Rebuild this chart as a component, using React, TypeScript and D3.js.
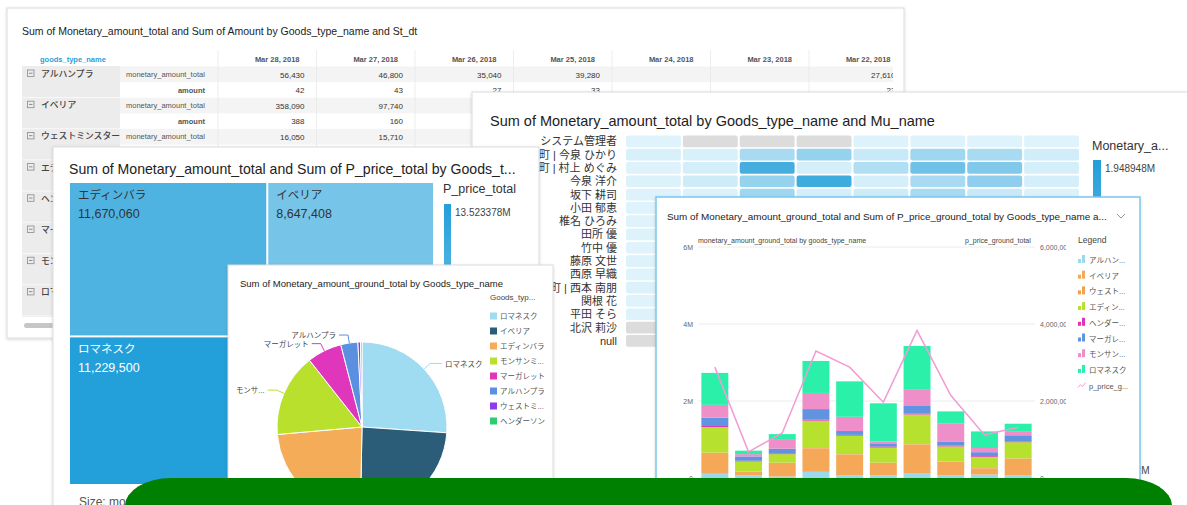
import * as d3 from "d3";
import { useEffect, useRef } from "react";

const W = 1187;
const H = 505;
const FONT = '"Liberation Sans", "Noto Sans CJK JP", sans-serif';

// ---- pivot table card
const tableTitle = "Sum of Monetary_amount_total and Sum of Amount by Goods_type_name and St_dt";
const tableDates = ["Mar 28, 2018", "Mar 27, 2018", "Mar 26, 2018", "Mar 25, 2018", "Mar 24, 2018", "Mar 23, 2018", "Mar 22, 2018"];
const tableGroups = ["アルハンプラ", "イベリア", "ウェストミンスター", "エディンバラ", "ヘンダーソン", "マーガレット", "モンサンミッシェル", "ロマネスク"];
const tableMeasures = ["monetary_amount_total", "amount"];
const tableMonetary = [
  [56430, 46800, 35040, 39280, null, null, 27610],
  [358090, 97740, null, null, null, null, null],
  [16050, 15710, null, null, null, null, null],
];
const tableAmount = [
  [42, 43, 27, 33, null, null, 23],
  [388, 160, null, null, null, null, null],
];

// ---- heatmap card
const heatTitle = "Sum of Monetary_amount_total by Goods_type_name and Mu_name";
const heatGoods = ["アルハンプラ", "イベリア", "ウェストミンスター", "エディンバラ", "ヘンダーソン", "マーガレット", "モンサンミッシェル", "ロマネスク"];
const heatNames = ["システム管理者", "本町 | 今泉 ひかり", "本町 | 村上 めぐみ", "今泉 洋介", "坂下 耕司", "小田 郁恵", "椎名 ひろみ", "田所 優", "竹中 優", "藤原 文世", "西原 早織", "本町 | 西本 南朋", "関根 花", "平田 そら", "北沢 莉沙", "null"];
// millions, null = no data (grey)
const heatValues = [
  [0.03, null, null, null, 0.04, 0.04, 0.03, 0.03],
  [0.09, 0.09, 0.58, 0.78, 0.26, 0.67, 0.58, 0.17],
  [0.04, 0.12, 1.6, 0.12, 0.5, 1.17, 0.99, 0.12],
  [0.05, 0.2, 0.78, 1.66, 0.12, 0.58, 0.84, 0.12],
  [0.04, 0.05, 0.67, 0.12, 0.2, 0.58, 0.25, 0.05],
  [0.03, 0.12, 0.35, 0.2, 0.1, 0.3, 0.25, 0.08],
  [0.03, 0.08, 0.4, 0.5, 0.15, 0.45, 0.3, 0.1],
  [0.04, 0.1, 0.3, 0.2, 0.12, 0.35, 0.4, 0.06],
  [0.03, 0.06, 0.25, 0.3, 0.1, 0.2, 0.22, 0.05],
  [0.04, 0.1, 0.45, 0.35, 0.2, 0.5, 0.42, 0.12],
  [0.03, 0.07, 0.3, 0.28, 0.1, 0.33, 0.3, 0.07],
  [0.05, 0.12, 0.55, 0.6, 0.2, 0.62, 0.5, 0.15],
  [0.03, 0.05, 0.2, 0.18, 0.08, 0.25, 0.2, 0.05],
  [0.04, 0.06, 0.22, 0.2, 0.09, 0.27, 0.24, 0.06],
  [null, 0.04, 0.12, 0.1, null, 0.15, 0.1, null],
  [null, null, 0.05, 0.04, null, 0.06, 0.05, null],
];
const heatMax = 1.948948;

// ---- treemap card
const treeTitle = "Sum of Monetary_amount_total and Sum of P_price_total by Goods_t...";
const treeNames = ["エディンバラ", "ロマネスク", "イベリア", "モンサンミッシェル", "マーガレット", "アルハンプラ", "ウェストミンスター", "ヘンダーソン"];
const treeAmount = [11670060, 11229500, 8647408, 5480000, 3020000, 1610000, 310000, 190000];
const treePrice = [10400000, 13523378, 7600000, 6200000, 3400000, 1900000, 400000, 250000];
const treePriceMax = 13523378;

// ---- pie card
const pieTitle = "Sum of Monetary_amount_ground_total by Goods_type_name";
const pieNames = ["ロマネスク", "イベリア", "エディンバラ", "モンサンミッシェル", "マーガレット", "アルハンプラ", "ウェストミンスター", "ヘンダーソン"];
const pieValues = [5420000, 5030000, 4840000, 3280000, 1370000, 675000, 100000, 60000];
const pieColors = ["#a0dcf1", "#2b5d79", "#f5ac58", "#b9e02d", "#e036bb", "#5b90e0", "#8b3cf2", "#2ecc71"];

// ---- combo card (values in millions)
const comboTitle = "Sum of Monetary_amount_ground_total and Sum of P_price_ground_total by Goods_type_name a...";
const comboDates = ["Mar 13", "Mar 14", "Mar 15", "Mar 16", "Mar 17", "Mar 18", "Mar 19", "Mar 20", "Mar 21", "Mar 22"];
const comboKeys = ["アルハンプラ", "イベリア", "ウェストミンスター", "エディンバラ", "ヘンダーソン", "マーガレット", "モンサンミッシェル", "ロマネスク"];
const comboColors = ["#9bd9ef", "#f5a857", "#f39f4f", "#b6e12f", "#e233b5", "#6093e0", "#ee8fca", "#2af0a9"];
const alhambra = [0.11, 0.07, 0.04, 0.16, 0.07, 0.07, 0.13, 0.07, 0.09, 0.07];
const iberia = [0.54, 0.09, 0.35, 0.61, 0.54, 0.32, 0.74, 0.35, 0.16, 0.43];
const westminster = [0.01, 0.01, 0.01, 0.01, 0.01, 0.01, 0.01, 0.01, 0.01, 0.01];
const edinburgh = [0.66, 0.26, 0.22, 0.71, 0.48, 0.39, 0.77, 0.39, 0.29, 0.42];
const henderson = [0.03, 0.02, 0.02, 0.03, 0.02, 0.03, 0.02, 0.02, 0.02, 0.02];
const margaret = [0.22, 0.11, 0.12, 0.27, 0.1, 0.08, 0.2, 0.11, 0.1, 0.16];
const montsaint = [0.33, 0.06, 0.23, 0.42, 0.37, 0.05, 0.42, 0.46, 0.11, 0.09];
const romanesque = [0.83, 0.09, 0.15, 0.83, 0.92, 0.99, 1.14, 0.32, 0.43, 0.21];
const pPrice = [2.88, 0.68, 1.17, 3.3, 2.88, 1.97, 3.83, 2.15, 1.12, 1.32];
const comboTicks = [0, 2, 4, 6];

function card(g: any, x: number, y: number, w: number, h: number, stroke = "#dcdcdc", sw = 1) {
  g.append("rect")
    .attr("x", x).attr("y", y).attr("width", w).attr("height", h)
    .attr("fill", "#fff").attr("stroke", stroke).attr("stroke-width", sw)
    .attr("filter", "url(#shadow)");
}

function drawTable(g: any, defs: any) {
  card(g, 7, 8, 897, 330);
  g.append("text").attr("x", 22).attr("y", 35).attr("font-size", 10.5).attr("fill", "#222").text(tableTitle);

  defs.append("clipPath").attr("id", "tclip").append("rect").attr("x", 8).attr("y", 9).attr("width", 885).attr("height", 328);
  defs.append("clipPath").attr("id", "mclip").append("rect").attr("x", 120).attr("y", 60).attr("width", 87).attr("height", 260);
  const body = g.append("g").attr("clip-path", "url(#tclip)");

  const colX = d3.scaleBand().domain(tableDates).range([218, 218 + 98.5 * tableDates.length]);
  const rowH = 15.6;
  const groupY = (i: number) => 66.5 + i * 31.2;

  body.append("text").attr("x", 40).attr("y", 62).attr("font-size", 7.5).attr("font-weight", "bold")
    .attr("fill", "#2a9fd8").text("goods_type_name");
  body.selectAll(".hdr").data(tableDates).join("text")
    .attr("x", (d: string) => colX(d)! + colX.bandwidth() - 17).attr("y", 62)
    .attr("text-anchor", "end").attr("font-size", 7.5).attr("font-weight", "bold").attr("fill", "#555")
    .text((d: string) => d);

  // left group column
  body.append("rect").attr("x", 22).attr("y", 66).attr("width", 98).attr("height", 251).attr("fill", "#ececec");

  tableGroups.forEach((grp, i) => {
    const y0 = groupY(i);
    body.append("rect").attr("x", 120).attr("y", y0).attr("width", 790).attr("height", rowH).attr("fill", "#f4f4f4");
    body.append("line").attr("x1", 22).attr("x2", 120).attr("y1", y0 + 31).attr("y2", y0 + 31).attr("stroke", "#f8f8f8");
    body.append("rect").attr("x", 27.5).attr("y", y0 + 3.5).attr("width", 6.5).attr("height", 6.5)
      .attr("fill", "none").attr("stroke", "#8a8a8a").attr("stroke-width", 0.8);
    body.append("line").attr("x1", 29).attr("x2", 32.5).attr("y1", y0 + 6.75).attr("y2", y0 + 6.75).attr("stroke", "#777").attr("stroke-width", 0.8);
    body.append("text").attr("x", 41).attr("y", y0 + 10.5).attr("font-size", 8.8).attr("font-weight", 500).attr("fill", "#444").text(grp);

    const mg = body.append("g").attr("clip-path", "url(#mclip)");
    mg.append("text").attr("x", 126).attr("y", y0 + 10.5).attr("font-size", 7.5).attr("fill", "#555").text(tableMeasures[0]);
    mg.append("text").attr("x", 205).attr("y", y0 + rowH + 10.5).attr("text-anchor", "end").attr("font-size", 7.5)
      .attr("font-weight", "bold").attr("fill", "#555").text(tableMeasures[1]);

    [tableMonetary[i], tableAmount[i]].forEach((vals, r) => {
      if (!vals) return;
      vals.forEach((v, k) => {
        if (v == null) return;
        body.append("text")
          .attr("x", colX(tableDates[k])! + colX.bandwidth() - 12)
          .attr("y", y0 + r * rowH + 11)
          .attr("text-anchor", "end").attr("font-size", 8).attr("fill", "#333")
          .text(d3.format(",")(v));
      });
    });
  });

  body.selectAll(".sep").data(tableDates).join("line")
    .attr("x1", (d: string) => colX(d)!).attr("x2", (d: string) => colX(d)!)
    .attr("y1", 50).attr("y2", 317).attr("stroke", "#e9e9e9").attr("stroke-width", 0.8);

  g.append("rect").attr("x", 24).attr("y", 323).attr("width", 30).attr("height", 5).attr("rx", 2.5).attr("fill", "#c6c6c6");
}

function drawHeatmap(g: any, defs: any) {
  card(g, 472, 92, 760, 420);
  g.append("text").attr("x", 490).attr("y", 126).attr("font-size", 14.5).attr("fill", "#222").text(heatTitle);

  const x = d3.scaleBand().domain(heatGoods).range([626, 1079]).paddingInner(0.035);
  const y = d3.scaleBand().domain(heatNames).range([135.5, 135.5 + 16 * 13.2]).paddingInner(0.12);
  const color = d3.scaleLinear<string>().domain([0, heatMax]).range(["#e1f4fc", "#239fd9"]);

  heatNames.forEach((name, r) => {
    g.selectAll(".c" + r).data(heatValues[r]).join("rect")
      .attr("x", (_d: any, k: number) => x(heatGoods[k])!)
      .attr("y", y(name)!)
      .attr("width", x.bandwidth()).attr("height", y.bandwidth()).attr("rx", 2)
      .attr("fill", (d: number | null) => (d == null ? "#dcdcdc" : color(d)));
  });
  g.selectAll(".rl").data(heatNames).join("text")
    .attr("x", 617).attr("y", (d: string) => y(d)! + y.bandwidth() / 2 + 4)
    .attr("text-anchor", "end").attr("font-size", 11).attr("fill", "#333").text((d: string) => d);

  const grad = defs.append("linearGradient").attr("id", "hgrad").attr("x1", 0).attr("x2", 0).attr("y1", 0).attr("y2", 1);
  grad.append("stop").attr("offset", 0).attr("stop-color", color(heatMax));
  grad.append("stop").attr("offset", 1).attr("stop-color", color(0));
  g.append("text").attr("x", 1092).attr("y", 150).attr("font-size", 12.5).attr("fill", "#333").text("Monetary_a...");
  g.append("rect").attr("x", 1093).attr("y", 160).attr("width", 8).attr("height", 312).attr("fill", "url(#hgrad)");
  g.append("text").attr("x", 1105).attr("y", 172).attr("font-size", 10).attr("fill", "#444").text(d3.format(".7")(heatMax) + "M");
  g.append("text").attr("x", 1105).attr("y", 474).attr("font-size", 10).attr("fill", "#444").text("0.00262M");
}

function drawTreemap(g: any, defs: any) {
  card(g, 53, 147, 486, 400);
  g.append("text").attr("x", 69).attr("y", 174).attr("font-size", 14.1).attr("fill", "#222").text(treeTitle);

  const color = d3.scaleLinear<string>().domain([0, treePriceMax]).range(["#e1f4fc", "#239fd9"]);
  const root = d3.hierarchy<any>({ children: treeNames.map((n, i) => ({ name: n, value: treeAmount[i], price: treePrice[i] })) })
    .sum((d: any) => d.value || 0)
    .sort((a: any, b: any) => b.value - a.value);
  d3.treemap<any>().size([363, 301]).paddingInner(2).tile(d3.treemapSquarify)(root);

  const tg = g.append("g").attr("transform", "translate(70,183)");
  const leaf = tg.selectAll("g").data(root.leaves()).join("g")
    .attr("transform", (d: any) => `translate(${d.x0},${d.y0})`);
  leaf.append("rect")
    .attr("width", (d: any) => d.x1 - d.x0).attr("height", (d: any) => d.y1 - d.y0)
    .attr("fill", (d: any) => color(d.data.price));
  const txt = (d: any) => (d.data.price > 12000000 ? "#fff" : "#333");
  leaf.append("text").attr("x", 8).attr("y", 16).attr("font-size", 11.5).attr("fill", txt).text((d: any) => d.data.name);
  leaf.append("text").attr("x", 8).attr("y", 35).attr("font-size", 12.5).attr("fill", txt).text((d: any) => d3.format(",")(d.value));

  const grad = defs.append("linearGradient").attr("id", "tgrad").attr("x1", 0).attr("x2", 0).attr("y1", 0).attr("y2", 1);
  grad.append("stop").attr("offset", 0).attr("stop-color", color(treePriceMax));
  grad.append("stop").attr("offset", 1).attr("stop-color", color(0));
  g.append("text").attr("x", 443).attr("y", 193).attr("font-size", 12.5).attr("fill", "#333").text("P_price_total");
  g.append("rect").attr("x", 444).attr("y", 204).attr("width", 7).attr("height", 300).attr("fill", "url(#tgrad)");
  g.append("text").attr("x", 455).attr("y", 216).attr("font-size", 10).attr("fill", "#444").text(d3.format(".8")(treePriceMax / 1e6) + "M");
  g.append("text").attr("x", 79).attr("y", 506).attr("font-size", 12).attr("fill", "#555").text("Size: monetary_amount_total");
}

function drawPie(g: any) {
  card(g, 228, 265, 325, 260);
  g.append("text").attr("x", 240).attr("y", 287).attr("font-size", 9.5).attr("fill", "#222").text(pieTitle);

  const cx = 362, cy = 427, r = 85;
  const arcs = d3.pie<number>().sort(null).value((d) => d)(pieValues);
  const arc = d3.arc<any>().innerRadius(0).outerRadius(r);
  const pg = g.append("g").attr("transform", `translate(${cx},${cy})`);
  pg.selectAll("path").data(arcs).join("path")
    .attr("d", arc).attr("fill", (_d: any, i: number) => pieColors[i])
    .attr("stroke", "#fff").attr("stroke-width", 1);

  const total = d3.sum(pieValues);
  const labeled = arcs.filter((a) => a.value / total > 0.02);
  labeled.forEach((a) => {
    const i = a.index;
    const mid = (a.startAngle + a.endAngle) / 2;
    const p1 = [Math.sin(mid) * r, -Math.cos(mid) * r];
    const p2 = [Math.sin(mid) * (r + 8), -Math.cos(mid) * (r + 8)];
    const right = Math.sin(mid) >= 0;
    const p3 = [p2[0] + (right ? 12 : -9), p2[1]];
    pg.append("polyline").attr("points", [p1, p2, p3].map((p) => p.join(",")).join(" "))
      .attr("fill", "none").attr("stroke", pieColors[i]).attr("stroke-width", 1);
    const nm = pieNames[i];
    pg.append("text").attr("x", p3[0] + (right ? 3 : -3)).attr("y", p3[1] + 3)
      .attr("text-anchor", right ? "start" : "end").attr("font-size", 7.5).attr("fill", "#444")
      .text(nm.length > 6 ? nm.slice(0, 3) + "..." : nm);
  });

  g.append("text").attr("x", 490).attr("y", 300).attr("font-size", 8).attr("fill", "#444").text("Goods_typ...");
  const leg = g.selectAll(".pl").data(pieNames).join("g")
    .attr("transform", (_d: any, i: number) => `translate(490,${316 + i * 15})`);
  leg.append("rect").attr("x", 0).attr("y", -3.5).attr("width", 7).attr("height", 7).attr("fill", (_d: any, i: number) => pieColors[i]);
  leg.append("text").attr("x", 10).attr("y", 3).attr("font-size", 7.5).attr("fill", "#555")
    .text((d: string) => (d.length > 6 ? d.slice(0, 5) + "..." : d));
}

function drawCombo(g: any, defs: any) {
  card(g, 656, 197, 484, 320, "#7cc8ee", 1.5);
  g.append("text").attr("x", 667).attr("y", 220).attr("font-size", 9.9).attr("fill", "#222").text(comboTitle);
  g.append("path").attr("d", "M1117,214 l4,4 l4,-4").attr("fill", "none").attr("stroke", "#999").attr("stroke-width", 1);

  const series = [alhambra, iberia, westminster, edinburgh, henderson, margaret, montsaint, romanesque];
  const rows = comboDates.map((d, i) => {
    const o: any = { date: d };
    comboKeys.forEach((k, j) => (o[k] = series[j][i]));
    return o;
  });
  const stacked = d3.stack<any>().keys(comboKeys)(rows);

  const x = d3.scaleBand().domain(comboDates).range([698, 1035]).paddingInner(0.2).paddingOuter(0.1);
  const y = d3.scaleLinear().domain([0, 6]).range([478, 247]);
  const y2 = d3.scaleLinear().domain([0, 6]).range([478, 247]);

  g.selectAll(".grid").data(comboTicks).join("line")
    .attr("x1", 698).attr("x2", 1035).attr("y1", (d: number) => y(d)).attr("y2", (d: number) => y(d))
    .attr("stroke", "#ececec");
  g.selectAll(".yl").data(comboTicks).join("text")
    .attr("x", 693).attr("y", (d: number) => y(d) + 2.5).attr("text-anchor", "end")
    .attr("font-size", 7).attr("fill", "#666").text((d: number) => (d === 0 ? "0" : d + "M"));
  defs.append("clipPath").attr("id", "rclip").append("rect").attr("x", 1038).attr("y", 230).attr("width", 28).attr("height", 260);
  g.append("g").attr("clip-path", "url(#rclip)").selectAll("text").data(comboTicks).join("text")
    .attr("x", 1040).attr("y", (d: number) => y2(d) + 2.5).attr("font-size", 7).attr("fill", "#666")
    .text((d: number) => d3.format(",")(d * 1e6));

  g.append("text").attr("x", 698).attr("y", 242.5).attr("font-size", 7).attr("fill", "#444").text("monetary_amount_ground_total by goods_type_name");
  g.append("text").attr("x", 965).attr("y", 242.5).attr("font-size", 7).attr("fill", "#444").text("p_price_ground_total");

  g.selectAll(".ser").data(stacked).join("g").attr("fill", (_d: any, i: number) => comboColors[i])
    .selectAll("rect").data((d: any) => d).join("rect")
    .attr("x", (d: any) => x(d.data.date)!).attr("width", x.bandwidth())
    .attr("y", (d: any) => y(d[1])).attr("height", (d: any) => y(d[0]) - y(d[1]));

  const line = d3.line<number>().x((_d, i) => x(comboDates[i])! + x.bandwidth() / 2).y((d) => y2(d));
  g.append("path").attr("d", line(pPrice)).attr("fill", "none").attr("stroke", "#f29bd4").attr("stroke-width", 1.5);

  g.append("text").attr("x", 1078).attr("y", 243).attr("font-size", 8.5).attr("fill", "#444").text("Legend");
  const leg = g.selectAll(".cl").data(comboKeys).join("g")
    .attr("transform", (_d: any, i: number) => `translate(1078,${260 + i * 15.7})`);
  leg.append("rect").attr("x", 0).attr("y", -1).attr("width", 3).attr("height", 4).attr("fill", (_d: any, i: number) => comboColors[i]);
  leg.append("rect").attr("x", 4).attr("y", -5).attr("width", 3).attr("height", 8).attr("fill", (_d: any, i: number) => comboColors[i]);
  leg.append("text").attr("x", 11).attr("y", 3).attr("font-size", 7.5).attr("fill", "#555")
    .text((d: string) => (d.length > 5 ? d.slice(0, 4) + "..." : d));
  const ly = 260 + comboKeys.length * 15.7;
  g.append("path").attr("d", `M1078,${ly + 2} l2.5,-3 l2,2 l3,-4`).attr("fill", "none").attr("stroke", "#f29bd4").attr("stroke-width", 1);
  g.append("text").attr("x", 1089).attr("y", ly + 3).attr("font-size", 7.5).attr("fill", "#555").text("p_price_g...");
}

const App = () => {
  const ref = useRef<SVGSVGElement>(null);

  useEffect(() => {
    const svg = d3.select(ref.current);
    svg.selectAll("*").remove();
    const defs = svg.append("defs");
    const f = defs.append("filter").attr("id", "shadow").attr("x", "-5%").attr("y", "-5%").attr("width", "110%").attr("height", "110%");
    f.append("feDropShadow").attr("dx", 0).attr("dy", 1).attr("stdDeviation", 1.5).attr("flood-color", "#000").attr("flood-opacity", 0.16);

    drawTable(svg.append("g"), defs);
    drawHeatmap(svg.append("g"), defs);
    drawTreemap(svg.append("g"), defs);
    drawPie(svg.append("g"));
    drawCombo(svg.append("g"), defs);

    // green overlay shape at the bottom
    svg.append("rect").attr("x", 125).attr("y", 478).attr("width", 1047).attr("height", 80)
      .attr("rx", 46).attr("ry", 28).attr("fill", "#008000");
  }, []);

  return (
    <svg
      ref={ref}
      width={W}
      height={H}
      style={{ position: "absolute", left: 0, top: 0, fontFamily: FONT, background: "#fff" }}
    />
  );
};

export default App;
